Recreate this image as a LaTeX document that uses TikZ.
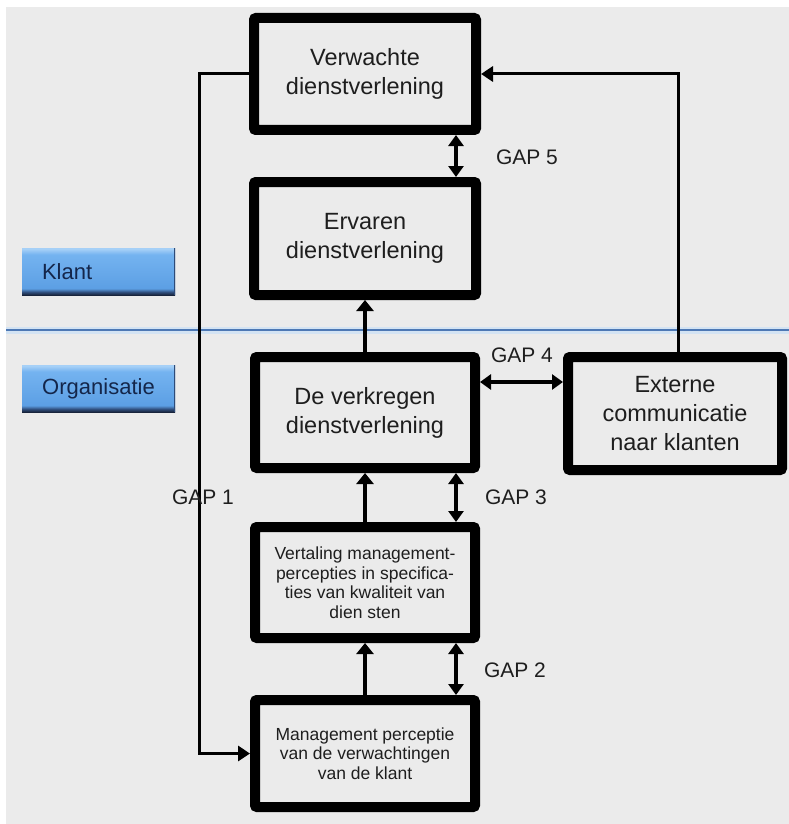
\documentclass[tikz,border=0pt]{standalone}
\usepackage{fontspec}
\setmainfont{Liberation Sans}
\usetikzlibrary{arrows.meta,calc}
\definecolor{bg}{HTML}{EBEBEB}
\definecolor{txt}{HTML}{1E1E1E}
\definecolor{lineblue}{HTML}{4D78B4}
\definecolor{lineglow}{HTML}{D3E3F3}
\definecolor{btntext}{HTML}{14264A}
\definecolor{btnlight}{HTML}{A6D0F7}
\definecolor{btnmidtwo}{HTML}{74B3F0}
\definecolor{btnmid}{HTML}{5C9FE4}
\definecolor{btnshadow}{HTML}{2E4B78}
\definecolor{btndark}{HTML}{18243C}
\pgfdeclareverticalshading{btnshade}{100bp}{color(0bp)=(btndark); color(25bp)=(btndark); color(28bp)=(btnshadow); color(32bp)=(btnmid); color(68bp)=(btnmidtwo); color(74bp)=(btnlight); color(100bp)=(btnlight)}
\begin{document}
\begin{tikzpicture}[x=1pt,y=-1pt,
  box/.style={draw=black, line width=10pt, rounded corners=2pt, fill=bg, align=center,
    text=txt, font=\fontsize{23.5}{29}\selectfont, inner sep=0pt},
  smallbox/.style={box, font=\fontsize{17.5}{19.5}\selectfont},
  gap/.style={text=txt, font=\fontsize{21}{21}\selectfont, inner sep=0pt},
  btn/.style={minimum width=153pt, minimum height=47pt, shade, shading=btnshade,
    text=btntext, font=\fontsize{22}{22}\selectfont, inner ysep=0pt,
    path picture={\draw[btnshadow, line width=3pt] (path picture bounding box.north east) -- (path picture bounding box.south east);}},
  conn/.style={draw=black, line width=4.5pt, -{Triangle[width=17pt,length=11pt]}},
  gconn/.style={draw=black, line width=4pt, {Triangle[width=15pt,length=11pt]}-{Triangle[width=15pt,length=11pt]}},
  thinconn/.style={draw=black, line width=3pt, -{Triangle[width=15pt,length=12pt]}}
]
\useasboundingbox (0,0) rectangle (789,824);
\fill[white] (0,0) rectangle (789,824);
\fill[bg] (6,7) rectangle (789,824);
\draw[lineglow, line width=7pt] (6,330) -- (789,330);
\draw[lineblue, line width=2pt] (6,330) -- (789,330);

% buttons
\node[btn, text width=113pt, align=left, inner xsep=20pt] (klant) at (98.5,271.5) {Klant};
\node[btn, align=center] (org) at (98.5,388.5) {Organisatie};

% boxes
\node[box, minimum width=222pt, minimum height=112pt] (verw) at (365,74) {Verwachte\\dienstverlening};
\node[box, minimum width=222pt, minimum height=113pt] (erv) at (365,238.5) {Ervaren\\dienstverlening};
\node[box, minimum width=220pt, minimum height=111pt] (verk) at (365,412.5) {De verkregen\\dienstverlening};
\node[box, minimum width=214pt, minimum height=113pt] (ext) at (675,413.5) {Externe\\communicatie\\naar klanten};
\node[smallbox, minimum width=220pt, minimum height=111pt] (vert) at (365,582.5) {Vertaling management-\\percepties in specifica-\\ties van kwaliteit van\\dien sten};
\node[smallbox, minimum width=220pt, minimum height=107pt] (mgmt) at (365,753.5) {Management perceptie\\van de verwachtingen\\van de klant};

% helper coordinates
\coordinate (gx) at (456,0);
\coordinate (g4) at (0,382);
\coordinate (ex) at (678,0);
\coordinate (g1) at (199,0);

% connectors
\draw[conn] (verk.north) -- (erv.south);
\draw[conn] (vert.north) -- (verk.south);
\draw[conn] (mgmt.north) -- (vert.south);
\draw[gconn] (verw.south -| gx) -- (erv.north -| gx);
\draw[gconn] (verk.south -| gx) -- (vert.north -| gx);
\draw[gconn] (vert.south -| gx) -- (mgmt.north -| gx);
\draw[gconn] (verk.east |- g4) -- (ext.west |- g4);
\draw[thinconn] (ext.north -| ex) |- (verw.east);
\draw[thinconn] (verw.west) -- (verw.west -| g1) |- (mgmt.west);

% labels
\node[gap] (gap5) at (527,157) {GAP 5};
\node[gap] (gap4) at (522,355) {GAP 4};
\node[gap] (gap3) at (516,497) {GAP 3};
\node[gap] (gap2) at (515,670) {GAP 2};
\node[gap] (gap1) at (203,497) {GAP 1};
\end{tikzpicture}
\end{document}
